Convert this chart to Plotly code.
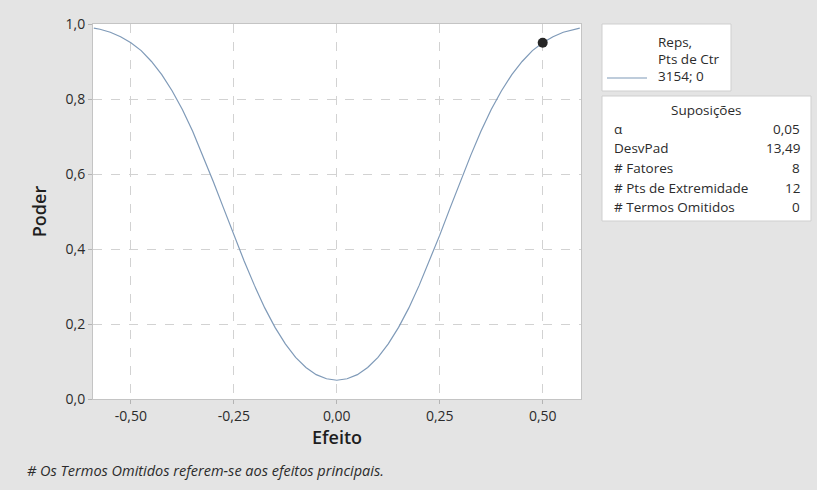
import plotly.graph_objects as go

# Power curve
effect = [-0.59, -0.575, -0.55, -0.525, -0.5, -0.475, -0.45, -0.425, -0.4, -0.375, -0.35, -0.325, -0.3,
          -0.275, -0.25, -0.225, -0.2, -0.175, -0.15, -0.125, -0.1, -0.075, -0.05, -0.025, 0.0,
          0.025, 0.05, 0.075, 0.1, 0.125, 0.15, 0.175, 0.2, 0.225, 0.25, 0.275, 0.3, 0.325, 0.35,
          0.375, 0.4, 0.425, 0.45, 0.475, 0.5, 0.525, 0.55, 0.575, 0.59]
power = [0.989, 0.986, 0.978, 0.966, 0.950, 0.929, 0.900, 0.865, 0.822, 0.772, 0.714, 0.649, 0.580,
         0.509, 0.437, 0.368, 0.303, 0.243, 0.191, 0.147, 0.111, 0.084, 0.065, 0.054, 0.050,
         0.054, 0.065, 0.084, 0.111, 0.147, 0.191, 0.243, 0.303, 0.368, 0.437, 0.509, 0.580, 0.649, 0.714,
         0.772, 0.822, 0.865, 0.900, 0.929, 0.950, 0.966, 0.978, 0.986, 0.989]
point_effect = [0.5]
point_power = [0.95]

x_tickvals = [-0.5, -0.25, 0.0, 0.25, 0.5]
x_ticktext = ["-0,50", "-0,25", "0,00", "0,25", "0,50"]
y_tickvals = [0.0, 0.2, 0.4, 0.6, 0.8, 1.0]
y_ticktext = ["0,0", "0,2", "0,4", "0,6", "0,8", "1,0"]

legend_title = ["Reps,", "Pts de Ctr"]
legend_value = "3154; 0"
assump_title = "Suposições"
assump_labels = ["α", "DesvPad", "# Fatores", "# Pts de Extremidade", "# Termos Omitidos"]
assump_values = ["0,05", "13,49", "8", "12", "0"]
footnote = "# Os Termos Omitidos referem-se aos efeitos principais."

FONT = "Open Sans"
TXT = "#2b2b2b"
BG = "#e4e4e4"
LINE = "#7f9ab8"

fig = go.Figure()
fig.add_trace(go.Scatter(x=effect, y=power, mode="lines",
                         line=dict(color=LINE, width=1.2), showlegend=False, hoverinfo="skip"))
fig.add_trace(go.Scatter(x=point_effect, y=point_power, mode="markers",
                         marker=dict(color="#262626", size=10), showlegend=False))

W, H = 817, 490
L, R, T, B = 93, 236, 24, 91

axis_common = dict(showgrid=True, gridcolor="#d2d2d2", griddash="dash", gridwidth=1,
                   zeroline=False, showline=True, linecolor="#c4c4c4", linewidth=1, mirror=True,
                   ticks="outside", ticklen=4, tickcolor="#b4b4b4",
                   tickfont=dict(family=FONT, size=14, color=TXT))

fig.update_layout(
    width=W, height=H,
    margin=dict(l=L, r=R, t=T, b=B, pad=0),
    paper_bgcolor=BG, plot_bgcolor="white",
    font=dict(family=FONT, color=TXT),
    xaxis=dict(range=[-0.592, 0.593], tickvals=x_tickvals, ticktext=x_ticktext,
               title=dict(text="Efeito", font=dict(family=FONT, size=18, color="#1e1e1e", weight=600),
                          standoff=4),
               **axis_common),
    yaxis=dict(range=[0, 1], tickvals=y_tickvals, ticktext=y_ticktext,
               title=dict(text="Poder", font=dict(family=FONT, size=18, color="#1e1e1e", weight=600),
                          standoff=14),
               **axis_common),
    showlegend=False,
)

def xp(px):
    return (px - L) / (W - L - R)

def yp(py):
    return (H - B - py) / (H - T - B)

def rect_px(x0, y0, x1, y1):
    return dict(type="rect", xref="paper", yref="paper",
                x0=xp(x0), x1=xp(x1), y0=yp(y1), y1=yp(y0),
                fillcolor="white", line=dict(color="#cfcfcf", width=1), layer="below")

shapes = [rect_px(602, 24, 731, 91), rect_px(602, 96, 811, 221),
          dict(type="line", xref="paper", yref="paper",
               x0=xp(607), x1=xp(647), y0=yp(78), y1=yp(78),
               line=dict(color=LINE, width=1.2))]
fig.update_layout(shapes=shapes)

ann = []
def txt(text, x, y, xanchor="left", size=13.5, italic=False, color=TXT):
    ann.append(dict(text=(f"<i>{text}</i>" if italic else text), xref="paper", yref="paper",
                    x=xp(x), y=yp(y), xanchor=xanchor, yanchor="middle", showarrow=False,
                    font=dict(family=FONT, size=size, color=color)))

txt(legend_title[0], 656, 42)
txt(legend_title[1], 656, 59)
txt(legend_value, 656, 76)
txt(assump_title, 706, 110, xanchor="center")
row_y = [129, 148, 168, 188, 207]
for lab, val, yy in zip(assump_labels, assump_values, row_y):
    txt(lab, 612, yy, size=13.5)
    txt(val, 802, yy, xanchor="right", size=13.5)
txt(footnote, 25, 470, size=14.5, italic=True)
fig.update_layout(annotations=ann)

fig.write_html("out.html", config={"displayModeBar": False},
               post_script="document.body.style.margin='0';")
